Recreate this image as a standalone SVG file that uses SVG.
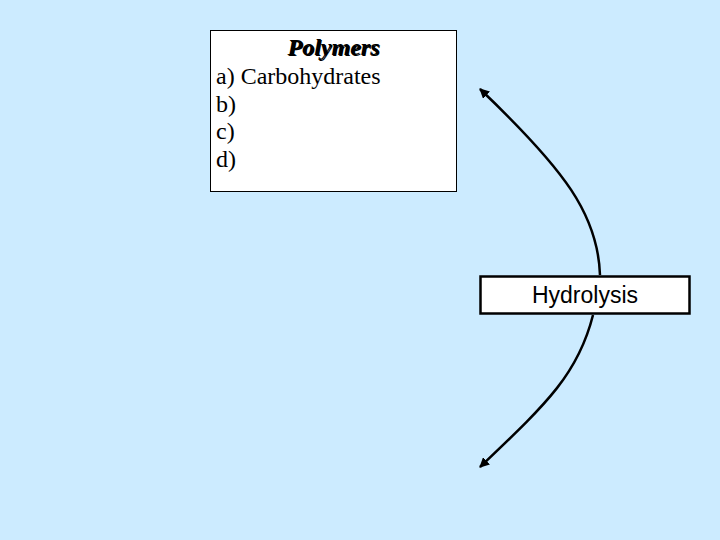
<svg xmlns="http://www.w3.org/2000/svg" width="720" height="540" viewBox="0 0 720 540">
<defs>
<style>
.serif{font-family:"Liberation Serif","Times New Roman",serif;font-size:24px;fill:#000}
.sans{font-family:"Liberation Sans",Arial,sans-serif;font-size:23px;fill:#000}
.conn{fill:none;stroke:#000;stroke-width:2.5}
</style>
<marker id="arr" viewBox="0 0 10 10" refX="9" refY="5" markerWidth="4" markerHeight="4" orient="auto-start-reverse" markerUnits="strokeWidth">
<path d="M0,0 L10,5 L0,10 z" fill="#000"/>
</marker>
</defs>
<rect width="720" height="540" fill="#CCEBFF"/>
<g id="connectors">
<path class="conn" d="M600,275 C598,215 565,170 480,89" marker-end="url(#arr)"/>
<path class="conn" d="M593,315 C578,375 545,405 480,467" marker-end="url(#arr)"/>
</g>
<g id="polymers">
<rect x="210.5" y="30.5" width="246" height="161" fill="#fff" stroke="#000" stroke-width="1"/>
<text class="serif" x="334.5" y="56" text-anchor="middle" font-weight="bold" font-style="italic" fill="#bbb">Polymers</text>
<text class="serif" x="333.5" y="55" text-anchor="middle" font-weight="bold" font-style="italic">Polymers</text>
<text class="serif" x="216" y="84">a) Carbohydrates</text>
<text class="serif" x="216" y="112">b)</text>
<text class="serif" x="216" y="139">c)</text>
<text class="serif" x="216" y="167">d)</text>
</g>
<g id="hydrolysis">
<rect x="480.5" y="276.5" width="209" height="37" fill="#fff" stroke="#000" stroke-width="2.5"/>
<text class="sans" x="585" y="303" text-anchor="middle">Hydrolysis</text>
</g>
</svg>
